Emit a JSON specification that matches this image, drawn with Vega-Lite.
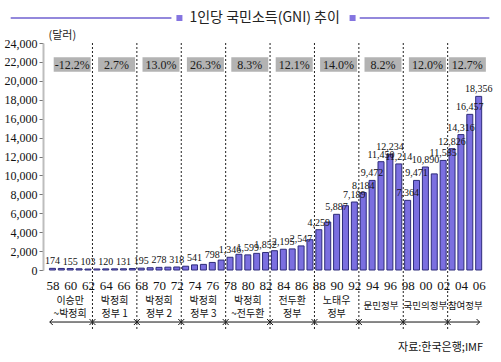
{
  "$schema": "https://vega.github.io/schema/vega-lite/v6.json",
  "width": 454,
  "height": 227,
  "autosize": "none",
  "padding": {"left": 43, "top": 43, "right": 4, "bottom": 92},
  "background": "white",
  "config": {"view": {"stroke": null}},
  "resolve": {"axis": {"x": "independent", "y": "independent"}},
  "datasets": {
    "gni": [
      {"year": 1958, "gni": 174, "labeled": true},
      {"year": 1959, "gni": 165, "labeled": false},
      {"year": 1960, "gni": 155, "labeled": true},
      {"year": 1961, "gni": 130, "labeled": false},
      {"year": 1962, "gni": 103, "labeled": true},
      {"year": 1963, "gni": 110, "labeled": false},
      {"year": 1964, "gni": 120, "labeled": true},
      {"year": 1965, "gni": 125, "labeled": false},
      {"year": 1966, "gni": 131, "labeled": true},
      {"year": 1967, "gni": 160, "labeled": false},
      {"year": 1968, "gni": 195, "labeled": true},
      {"year": 1969, "gni": 240, "labeled": false},
      {"year": 1970, "gni": 278, "labeled": true},
      {"year": 1971, "gni": 300, "labeled": false},
      {"year": 1972, "gni": 318, "labeled": true},
      {"year": 1973, "gni": 400, "labeled": false},
      {"year": 1974, "gni": 541, "labeled": true},
      {"year": 1975, "gni": 594, "labeled": false},
      {"year": 1976, "gni": 798, "labeled": true},
      {"year": 1977, "gni": 1050, "labeled": false},
      {"year": 1978, "gni": 1346, "labeled": true},
      {"year": 1979, "gni": 1660, "labeled": false},
      {"year": 1980, "gni": 1599, "labeled": true},
      {"year": 1981, "gni": 1760, "labeled": false},
      {"year": 1982, "gni": 1852, "labeled": true},
      {"year": 1983, "gni": 2040, "labeled": false},
      {"year": 1984, "gni": 2195, "labeled": true},
      {"year": 1985, "gni": 2230, "labeled": false},
      {"year": 1986, "gni": 2547, "labeled": true},
      {"year": 1987, "gni": 3200, "labeled": false},
      {"year": 1988, "gni": 4259, "labeled": true},
      {"year": 1989, "gni": 5070, "labeled": false},
      {"year": 1990, "gni": 5887, "labeled": true},
      {"year": 1991, "gni": 6800, "labeled": false},
      {"year": 1992, "gni": 7189, "labeled": true},
      {"year": 1993, "gni": 8184, "labeled": true},
      {"year": 1994, "gni": 9472, "labeled": true},
      {"year": 1995, "gni": 11450, "labeled": true},
      {"year": 1996, "gni": 12234, "labeled": true},
      {"year": 1997, "gni": 11214, "labeled": true},
      {"year": 1998, "gni": 7364, "labeled": true},
      {"year": 1999, "gni": 9471, "labeled": true},
      {"year": 2000, "gni": 10890, "labeled": true},
      {"year": 2001, "gni": 10160, "labeled": false},
      {"year": 2002, "gni": 11585, "labeled": true},
      {"year": 2003, "gni": 12826, "labeled": true},
      {"year": 2004, "gni": 14316, "labeled": true},
      {"year": 2005, "gni": 16457, "labeled": true},
      {"year": 2006, "gni": 18356, "labeled": true}
    ],
    "eras": [
      {"name": "이승만\n~박정희", "from": 1958, "to": 1962, "mid": 1960, "growth": "-12.2%"},
      {"name": "박정희\n정부 1", "from": 1963, "to": 1967, "mid": 1965, "growth": "2.7%"},
      {"name": "박정희\n정부 2", "from": 1968, "to": 1972, "mid": 1970, "growth": "13.0%"},
      {"name": "박정희\n정부 3", "from": 1973, "to": 1977, "mid": 1975, "growth": "26.3%"},
      {"name": "박정희\n~전두환", "from": 1978, "to": 1982, "mid": 1980, "growth": "8.3%"},
      {"name": "전두환\n정부", "from": 1983, "to": 1987, "mid": 1985, "growth": "12.1%"},
      {"name": "노태우\n정부", "from": 1988, "to": 1992, "mid": 1990, "growth": "14.0%"},
      {"name": "문민정부", "from": 1993, "to": 1997, "mid": 1995, "growth": "8.2%"},
      {"name": "국민의정부", "from": 1998, "to": 2002, "mid": 2000, "growth": "12.0%"},
      {"name": "참여정부", "from": 2003, "to": 2006, "mid": 2004.5, "growth": "12.7%"}
    ]
  },
  "layer": [
    {
      "data": {"name": "gni"},
      "mark": {"type": "bar", "width": 6, "fill": "#7b6fe0", "stroke": "#2e2c7a", "strokeWidth": 1},
      "encoding": {
        "x": {"field": "year", "type": "quantitative", "scale": {"domain": [1957.5, 2007.5], "nice": false, "zero": false},
          "axis": {"title": null, "values": [1958,1960,1962,1964,1966,1968,1970,1972,1974,1976,1978,1980,1982,1984,1986,1988,1990,1992,1994,1996,1998,2000,2002,2004,2006],
            "labelExpr": "slice(toString(datum.value), 2)", "domain": false, "ticks": false, "tickSize": 0, "labelPadding": 9, "labelFont": "Liberation Serif", "labelFontSize": 13, "labelColor": "#111111", "grid": false, "labelOverlap": false}},
        "y": {"field": "gni", "type": "quantitative", "scale": {"domain": [0, 24000], "nice": false},
          "axis": {"title": "(달러)", "titleAngle": 0, "titleAlign": "left", "titleBaseline": "bottom", "titleX": 5, "titleY": -3, "titleFont": "Noto Sans CJK KR", "titleFontSize": 11, "titleFontWeight": "normal", "titleColor": "#222222",
            "values": [0,2000,4000,6000,8000,10000,12000,14000,16000,18000,20000,22000,24000], "labelExpr": "format(datum.value, ',')", "grid": false, "labelOverlap": false,
            "labelFont": "Liberation Serif", "labelFontSize": 12, "labelColor": "#111111", "labelPadding": 2,
            "domainColor": "#bdbdbd", "domainWidth": 2, "tickColor": "#777777", "tickSize": 4}}
      }
    },
    {
      "data": {"name": "gni"},
      "transform": [{"filter": "datum.labeled"}],
      "mark": {"type": "text", "font": "Liberation Serif", "fontSize": 10, "color": "#111111", "baseline": "bottom", "dy": -2},
      "encoding": {
        "x": {"field": "year", "type": "quantitative", "axis": null},
        "y": {"field": "gni", "type": "quantitative", "axis": null},
        "text": {"field": "gni", "type": "quantitative", "format": ","}
      }
    },
    {
      "data": {"name": "eras"},
      "transform": [{"filter": "datum.to < 2006"}],
      "mark": {"type": "rule", "strokeDash": [2, 2], "color": "#222222", "strokeWidth": 1, "xOffset": 4.5},
      "encoding": {
        "x": {"field": "to", "type": "quantitative", "axis": null},
        "y": {"datum": 24000, "type": "quantitative", "axis": null},
        "y2": {"datum": -6300}
      }
    },
    {
      "data": {"name": "eras"},
      "mark": {"type": "bar", "width": 37, "xOffset": 2, "color": "#b3b3b3"},
      "encoding": {
        "x": {"field": "mid", "type": "quantitative", "axis": null},
        "y": {"datum": 22500, "type": "quantitative", "axis": null},
        "y2": {"datum": 20950}
      }
    },
    {
      "data": {"name": "eras"},
      "mark": {"type": "text", "font": "Liberation Serif", "fontSize": 12, "color": "#1a1a1a", "baseline": "middle", "xOffset": 2},
      "encoding": {
        "x": {"field": "mid", "type": "quantitative", "axis": null},
        "y": {"datum": 21725, "type": "quantitative", "axis": null},
        "text": {"field": "growth", "type": "nominal"}
      }
    },
    {
      "data": {"name": "eras"},
      "transform": [{"filter": "indexof(datum.name, '\\n') >= 0"}],
      "mark": {"type": "text", "font": "Noto Sans CJK KR", "fontSize": 10, "color": "#111111", "baseline": "middle", "lineBreak": "\n", "lineHeight": 13, "dy": 31},
      "encoding": {
        "x": {"field": "mid", "type": "quantitative", "axis": null},
        "y": {"datum": 0, "type": "quantitative", "axis": null},
        "text": {"field": "name", "type": "nominal"}
      }
    },
    {
      "data": {"name": "eras"},
      "transform": [{"filter": "indexof(datum.name, '\\n') < 0"}],
      "mark": {"type": "text", "font": "Noto Sans CJK KR", "fontSize": 9.5, "color": "#111111", "baseline": "middle", "dy": 36},
      "encoding": {
        "x": {"field": "mid", "type": "quantitative", "axis": null},
        "y": {"datum": 0, "type": "quantitative", "axis": null},
        "text": {"field": "name", "type": "nominal"}
      }
    },
    {
      "data": {"values": [{}]},
      "mark": {"type": "rule", "color": "#111111", "strokeWidth": 1},
      "encoding": {
        "x": {"datum": 1957.7, "type": "quantitative", "axis": null},
        "x2": {"datum": 2006.1},
        "y": {"datum": -5500, "type": "quantitative", "axis": null}
      }
    },
    {
      "data": {"name": "eras"},
      "transform": [{"filter": "datum.to < 2006"}],
      "mark": {"type": "point", "shape": "M-1,-1L0,0L-1,1M1,-1L0,0L1,1", "filled": false, "stroke": "#111111", "strokeWidth": 1, "size": 36, "xOffset": 4.5, "opacity": 1},
      "encoding": {
        "x": {"field": "to", "type": "quantitative", "axis": null},
        "y": {"datum": -5500, "type": "quantitative", "axis": null}
      }
    },
    {
      "data": {"values": [{}]},
      "mark": {"type": "point", "shape": "M1,-1L0,0L1,1", "filled": false, "stroke": "#111111", "strokeWidth": 1, "size": 36, "opacity": 1},
      "encoding": {
        "x": {"datum": 1957.7, "type": "quantitative", "axis": null},
        "y": {"datum": -5500, "type": "quantitative", "axis": null}
      }
    },
    {
      "data": {"values": [{}]},
      "mark": {"type": "point", "shape": "M-1,-1L0,0L-1,1", "filled": false, "stroke": "#111111", "strokeWidth": 1, "size": 36, "opacity": 1},
      "encoding": {
        "x": {"datum": 2006.1, "type": "quantitative", "axis": null},
        "y": {"datum": -5500, "type": "quantitative", "axis": null}
      }
    },
    {
      "data": {"values": [{}]},
      "mark": {"type": "text", "font": "Noto Sans CJK KR", "fontSize": 11, "color": "#111111", "align": "right", "baseline": "middle"},
      "encoding": {
        "x": {"datum": 2006.5, "type": "quantitative", "axis": null},
        "y": {"datum": -8250, "type": "quantitative", "axis": null},
        "text": {"value": "자료:한국은행;IMF"}
      }
    },
    {
      "data": {"values": [{}]},
      "mark": {"type": "text", "font": "Noto Sans CJK KR", "fontSize": 14, "color": "#222222", "align": "center", "baseline": "middle"},
      "encoding": {
        "x": {"datum": 1981.9, "type": "quantitative", "axis": null},
        "y": {"datum": 26640, "type": "quantitative", "axis": null},
        "text": {"value": "1인당 국민소득(GNI) 추이"}
      }
    },
    {
      "data": {"values": [{}]},
      "mark": {"type": "rule", "color": "#6f60d0", "strokeWidth": 1.5},
      "encoding": {
        "x": {"datum": 1953.3, "type": "quantitative", "axis": null},
        "x2": {"datum": 1971.4},
        "y": {"datum": 26640, "type": "quantitative", "axis": null}
      }
    },
    {
      "data": {"values": [{}]},
      "mark": {"type": "rule", "color": "#6f60d0", "strokeWidth": 1.5},
      "encoding": {
        "x": {"datum": 1992.6, "type": "quantitative", "axis": null},
        "x2": {"datum": 2007.2},
        "y": {"datum": 26640, "type": "quantitative", "axis": null}
      }
    },
    {
      "data": {"values": [{}]},
      "mark": {"type": "point", "shape": "square", "filled": true, "color": "#8474e0", "size": 36, "opacity": 1},
      "encoding": {
        "x": {"datum": 1972.3, "type": "quantitative", "axis": null},
        "y": {"datum": 26640, "type": "quantitative", "axis": null}
      }
    },
    {
      "data": {"values": [{}]},
      "mark": {"type": "point", "shape": "square", "filled": true, "color": "#8474e0", "size": 36, "opacity": 1},
      "encoding": {
        "x": {"datum": 1991.8, "type": "quantitative", "axis": null},
        "y": {"datum": 26640, "type": "quantitative", "axis": null}
      }
    }
  ]
}
